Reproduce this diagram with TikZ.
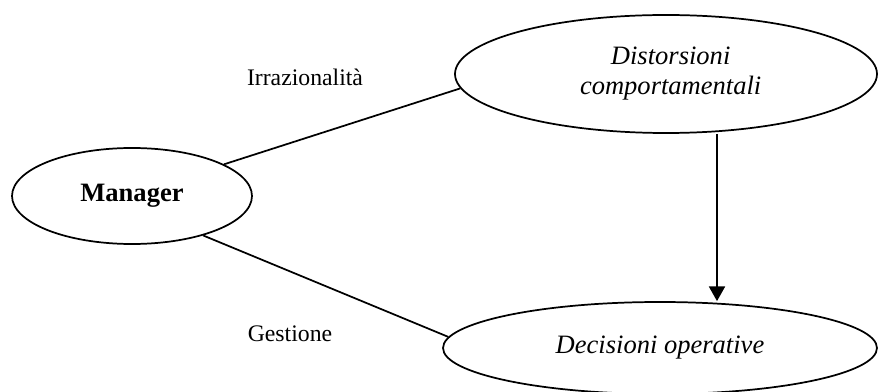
\documentclass[tikz,border=0pt]{standalone}
\usepackage{fontspec}
\setmainfont{Liberation Serif}
\usetikzlibrary{arrows.meta,shapes.geometric}

\begin{document}
\begin{tikzpicture}[
  x=0.75pt, y=-0.75pt,
  bubble/.style={ellipse, draw, line width=1.3pt, inner sep=0pt, align=center,
                 font=\fontsize{19.9}{22.5}\selectfont},
  link/.style={line width=1.3pt},
  tag/.style={inner sep=0pt, font=\fontsize{17.8}{20}\selectfont}
]
  \useasboundingbox (0,0) rectangle (879,392);

  % the three ellipses
  \node[bubble, minimum width=180pt, minimum height=72pt] (man) at (132,196)
    {\textbf{Manager}};
  \node[bubble, minimum width=316.5pt, minimum height=88.5pt] (dist) at (666,74)
    {\hspace*{7pt}\textit{Distorsioni}\\\hspace*{7pt}\textit{comportamentali}};
  \node[bubble, minimum width=325.5pt, minimum height=69pt] (dec) at (660,348)
    {\textit{Decisioni operative}};

  % connectors
  \draw[link] (man.19) -- (dist.184);
  \draw[link] (man.331) -- (dec.177);
  \coordinate (arrtop) at (717,0);
  \draw[link, -{Triangle[length=11pt, width=12pt]}]
    (dist.south -| arrtop) -- (dec.north -| arrtop);

  % labels on the two links
  \node[tag] (irr) at (305,77) {Irrazionalità};
  \node[tag] (ges) at (290,334) {Gestione};
\end{tikzpicture}
\end{document}
